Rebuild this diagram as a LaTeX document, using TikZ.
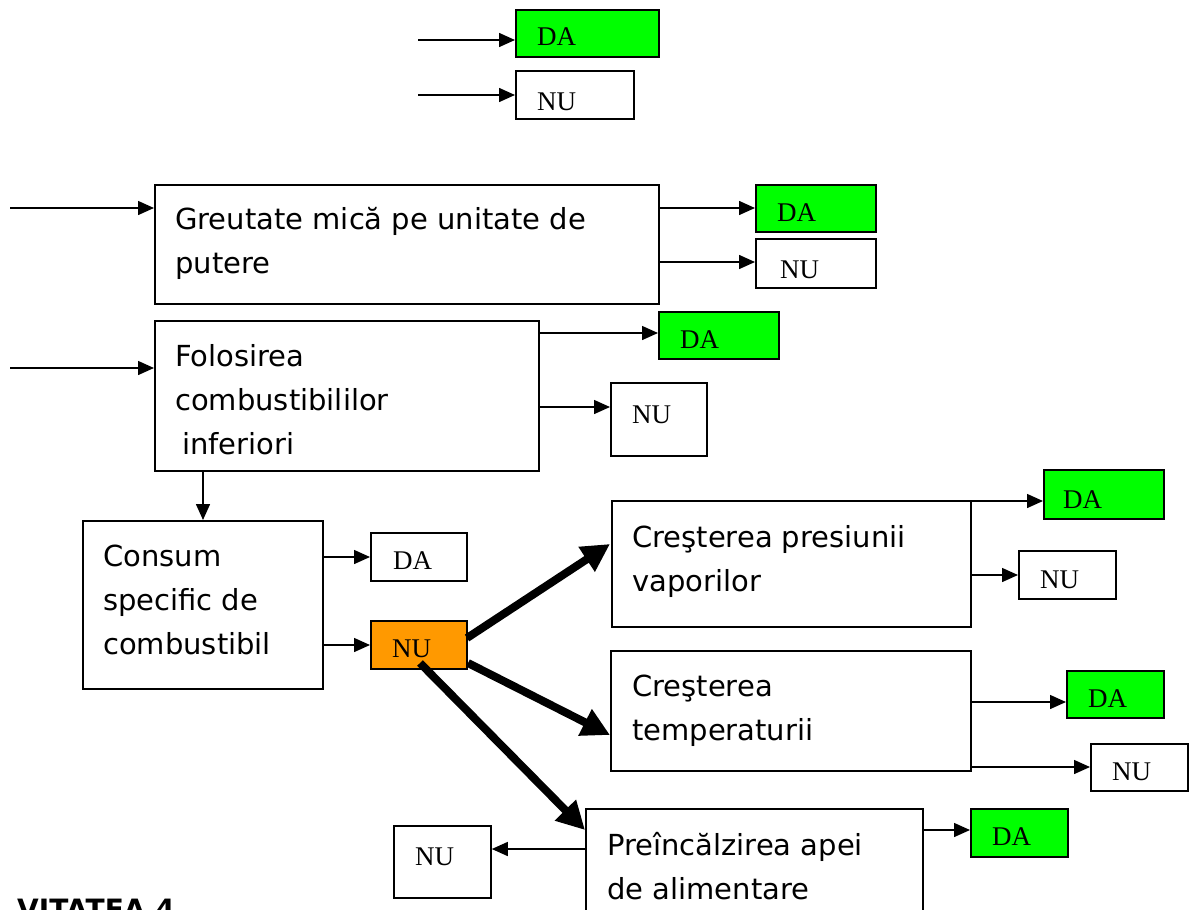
\documentclass[tikz,border=0pt]{standalone}
\usepackage{fontspec}
\setmainfont{Liberation Serif}
\newfontfamily\boxfont{DejaVu Sans}
\usetikzlibrary{arrows.meta,calc}
\definecolor{dagreen}{HTML}{00FF00}
\definecolor{nuorange}{HTML}{FF9900}
\begin{document}
\begin{tikzpicture}[x=1pt,y=-1pt,
  box/.style={draw, line width=1.8pt, inner sep=0pt, anchor=north west},
  yes/.style={box, fill=dagreen},
  orng/.style={box, fill=nuorange},
  lbl/.style={font=\fontsize{27}{27}\selectfont, inner sep=0pt, anchor=base west},
  txt/.style={font=\boxfont\fontsize{29}{44}\selectfont, inner sep=0pt, anchor=base west, align=left},
  arr/.style={line width=1.5pt, -{Triangle[length=16pt,width=14pt]}},
  fat/.style={line width=8pt, -{Triangle[length=28pt,width=28pt]}}]
\useasboundingbox (0,0) rectangle (1194,910);
\fill[white] (0,0) rectangle (1194,910);

% boxes
\node[yes, minimum width=143pt, minimum height=47pt] (tda) at (515,9) {};
\node[box, minimum width=118pt, minimum height=48pt] (tnu) at (515,70) {};
\node[box, minimum width=504pt, minimum height=119pt] (g) at (154,184) {};
\node[yes, minimum width=120pt, minimum height=47pt] (gda) at (755,184) {};
\node[box, minimum width=120pt, minimum height=49pt] (gnu) at (755,238) {};
\node[box, minimum width=384pt, minimum height=150pt] (f) at (154,320) {};
\node[yes, minimum width=120pt, minimum height=47pt] (fda) at (658,311) {};
\node[box, minimum width=96pt, minimum height=73pt] (fnu) at (610,382) {};
\node[box, minimum width=240pt, minimum height=168pt] (c) at (82,520) {};
\node[box, minimum width=96pt, minimum height=48pt] (cda) at (370,532) {};
\node[orng, minimum width=96pt, minimum height=48pt] (cnu) at (370,620) {};
\node[box, minimum width=359pt, minimum height=126pt] (p) at (611,500) {};
\node[yes, minimum width=120pt, minimum height=49pt] (pda) at (1043,469) {};
\node[box, minimum width=97pt, minimum height=48pt] (pnu) at (1018,550) {};
\node[box, minimum width=360pt, minimum height=120pt] (t) at (610,650) {};
\node[yes, minimum width=97pt, minimum height=47pt] (tda2) at (1066,670) {};
\node[box, minimum width=97pt, minimum height=47pt] (tnu2) at (1090,743) {};
\node[box, minimum width=337pt, minimum height=130pt] (pr) at (585,808) {};
\node[yes, minimum width=97pt, minimum height=48pt] (prda) at (970,808) {};
\node[box, minimum width=97pt, minimum height=72pt] (prnu) at (393,825) {};

% small labels
\node[lbl] (ltda) at (537,45) {DA};
\node[lbl] (ltnu) at (537,110) {NU};
\node[lbl] (lgda) at (777,221) {DA};
\node[lbl] (lgnu) at (780,278) {NU};
\node[lbl] (lfda) at (680,348) {DA};
\node[lbl] (lfnu) at (632,423) {NU};
\node[lbl] (lcda) at (393,569) {DA};
\node[lbl] (lcnu) at (392,657) {NU};
\node[lbl] (lpda) at (1063,508) {DA};
\node[lbl] (lpnu) at (1040,588) {NU};
\node[lbl] (ltda2) at (1088,707) {DA};
\node[lbl] (ltnu2) at (1112,780) {NU};
\node[lbl] (lprda) at (992,845) {DA};
\node[lbl] (lprnu) at (415,865) {NU};

% box texts (anchored at the baseline of the last line)
\node[txt] (xg) at (175,273) {Greutate mică pe unitate de\\putere};
\node[txt] (xf) at (175,454) {Folosirea\\combustibililor\\\hspace*{7pt}inferiori};
\node[txt] (xc) at (103,654) {Consum\\specific de\\combustibil};
\node[txt] (xp) at (632,591) {Creşterea presiunii\\vaporilor};
\node[txt] (xt) at (632,740) {Creşterea\\temperaturii};
\node[txt] (xpr) at (607,899) {Preîncălzirea apei\\de alimentare};
\node[font=\boxfont\bfseries\fontsize{28}{28}\selectfont, inner sep=0pt, anchor=base east] (act) at (175,919) {VITATEA 4};

% free ends
\coordinate (a1) at (418,40);
\coordinate (a2) at (418,95);
\coordinate (a3) at (10,208);
\coordinate (a4) at (10,368);
\coordinate (g1) at (658,208);
\coordinate (g2) at (658,262);
\coordinate (f1) at (538,333);
\coordinate (f2) at (538,407);
\coordinate (f3) at (203,470);
\coordinate (c1) at (322,557);
\coordinate (c2) at (322,645);
\coordinate (p1) at (970,501);
\coordinate (p2) at (971,575);
\coordinate (t1) at (970,702);
\coordinate (t2) at (971,767);
\coordinate (r1) at (922,830);
\coordinate (r2) at (585,849);
\coordinate (s1) at (467,638);
\coordinate (s2) at (468,663);
\coordinate (s3) at (420,663);
\coordinate (e1) at (610,544);
\coordinate (e2) at (610,735);
\coordinate (e3) at (585,830);

% thin connectors
\draw[arr] (a1) -- (a1 -| tda.west);
\draw[arr] (a2) -- (a2 -| tnu.west);
\draw[arr] (a3) -- (a3 -| g.west);
\draw[arr] (a4) -- (a4 -| f.west);
\draw[arr] (g1) -- (g1 -| gda.west);
\draw[arr] (g2) -- (g2 -| gnu.west);
\draw[arr] (f1) -- (f1 -| fda.west);
\draw[arr] (f2) -- (f2 -| fnu.west);
\draw[arr] (f3) -- (f3 |- c.north);
\draw[arr] (c1) -- (c1 -| cda.west);
\draw[arr] (c2) -- (c2 -| cnu.west);
\draw[arr] (p1) -- (p1 -| pda.west);
\draw[arr] (p2) -- (p2 -| pnu.west);
\draw[arr] (t1) -- (t1 -| tda2.west);
\draw[arr] (t2) -- (t2 -| tnu2.west);
\draw[arr] (r1) -- (r1 -| prda.west);
\draw[arr] (r2) -- (r2 -| prnu.east);

% thick connectors
\draw[fat] (s1) -- (e1);
\draw[fat] (s2) -- (e2);
\draw[fat] (s3) -- (e3);
\end{tikzpicture}
\end{document}
